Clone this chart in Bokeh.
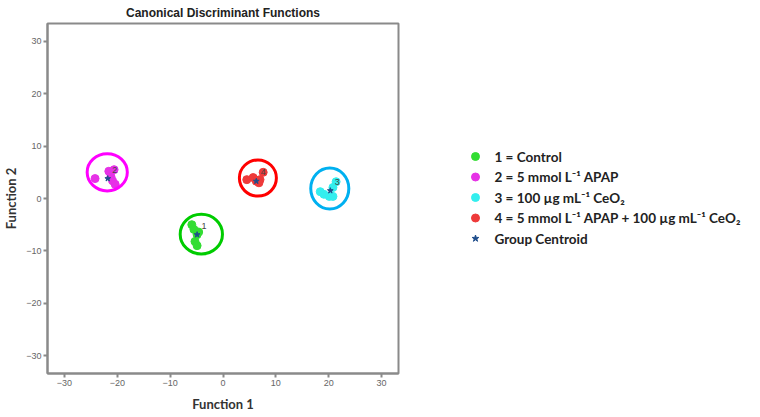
from bokeh.plotting import figure
from bokeh.layouts import row
from bokeh.models import Range1d, FixedTicker
from bokeh.core.properties import value
from bokeh.embed import file_html
from bokeh.resources import INLINE

# ---------------- data ----------------
g1_x = [-5.9, -5.5, -4.9, -5.3, -4.9, -4.6]
g1_y = [-5.0, -5.9, -6.9, -8.2, -9.0, -6.4]
g2_x = [-24.2, -21.6, -20.6, -21.2, -20.9, -20.4]
g2_y = [3.8, 5.2, 5.5, 4.2, 3.4, 2.7]
g3_x = [18.4, 19.1, 20.1, 20.8, 20.8, 21.4]
g3_y = [1.3, 0.8, 0.4, 0.4, 2.1, 3.2]
g4_x = [4.5, 5.7, 6.3, 7.0, 6.8, 7.6]
g4_y = [3.6, 4.0, 3.3, 3.6, 3.0, 5.0]

centroid_x = [-4.9, -21.8, 20.3, 6.3]
centroid_y = [-6.9, 3.8, 1.5, 3.3]
group_labels = ["1", "2", "3", "4"]

circle_x = [-4.1, -21.9, 20.2, 6.6]
circle_y = [-6.8, 5.0, 1.9, 3.9]
circle_w = [8.0, 7.6, 7.2, 7.0]
circle_h = [7.6, 7.1, 7.8, 6.9]

ticks = [-30, -20, -10, 0, 10, 20, 30]

legend_labels = [
    "1 = Control",
    "2 = 5 mmol L\u207b\u00b9 APAP",
    "3 = 100 \u00b5g mL\u207b\u00b9 CeO\u2082",
    "4 = 5 mmol L\u207b\u00b9 APAP + 100 \u00b5g mL\u207b\u00b9 CeO\u2082",
    "Group Centroid",
]

# ---------------- styles ----------------
point_colors = ["#33dd33", "#e632e6", "#33eeee", "#ee3a3a"]
circle_colors = ["#00cc00", "#ff00ff", "#00b0f0", "#ff0000"]
star_color = "#1f4e8c"
frame_color = "#8a8a8a"

p = figure(frame_width=351, frame_height=350,
           x_range=Range1d(-33.2, 33.2), y_range=Range1d(-33.4, 33.4),
           output_backend="svg", toolbar_location=None,
           title="Canonical Discriminant Functions",
           min_border_left=38, min_border_right=2,
           min_border_top=0, min_border_bottom=0)
p.background_fill_color = "white"
p.border_fill_color = "white"
p.outline_line_color = frame_color
p.outline_line_width = 2
p.grid.visible = False

p.title.text_font = "Liberation Sans"
p.title.text_font_size = "12px"
p.title.text_font_style = "bold"
p.title.text_color = "#222222"
p.title.align = "center"
p.title.standoff = 7

for ax in (p.xaxis[0], p.yaxis[0]):
    ax.ticker = FixedTicker(ticks=ticks)
    ax.minor_tick_line_color = None
    ax.major_tick_in = 0
    ax.major_tick_out = 4
    ax.major_tick_line_color = frame_color
    ax.major_tick_line_width = 2
    ax.axis_line_color = frame_color
    ax.axis_line_width = 2
    ax.major_label_text_font = "Liberation Sans"
    ax.major_label_text_font_size = "9px"
    ax.major_label_text_color = "#666666"
    ax.major_label_standoff = 2
    ax.axis_label_text_font = "Lato"
    ax.axis_label_text_font_style = "bold"
    ax.axis_label_text_font_size = "13px"
    ax.axis_label_text_color = "#333333"
p.xaxis.axis_label = "Function 1"
p.yaxis.axis_label = "Function 2"
p.xaxis.axis_label_standoff = 7
p.yaxis.axis_label_standoff = 4

groups = [(g1_x, g1_y), (g2_x, g2_y), (g3_x, g3_y), (g4_x, g4_y)]
for (gx, gy), c in zip(groups, point_colors):
    p.scatter(gx, gy, size=8, fill_color=c, line_color=c, marker="circle")

p.ellipse(x=circle_x, y=circle_y, width=circle_w, height=circle_h,
          fill_color=None, line_color=circle_colors, line_width=3)

p.scatter(centroid_x, centroid_y, marker="star", size=6,
          fill_color=star_color, line_color=star_color)
p.text(x=centroid_x, y=centroid_y, text=group_labels, x_offset=7, y_offset=-9,
       text_font=value("Liberation Sans"), text_font_size="9px",
       text_color="#444444", text_align="center", text_baseline="middle")

# ---------------- legend panel (frame aligned with the plot frame) ----------------
LX0, LX1 = 399, 751      # page x span of legend panel
LY0, LY1 = 22, 372       # page y span (aligned to the plot frame)
lf = figure(frame_width=LX1 - LX0, frame_height=LY1 - LY0,
            x_range=Range1d(LX0, LX1), y_range=Range1d(LY1, LY0),
            output_backend="svg", toolbar_location=None,
            x_axis_location=None, y_axis_location=None, min_border=0)
lf.outline_line_color = None
lf.grid.visible = False
lf.background_fill_color = "white"
lf.border_fill_color = "white"

rows_y = [155, 175.5, 196, 216.5, 237]
lf.scatter([474] * 4, rows_y[:4], size=8, fill_color=point_colors,
           line_color=point_colors, marker="circle")
lf.scatter([474], [rows_y[4]], size=7, marker="star",
           fill_color=star_color, line_color=star_color)
lf.text(x=[493] * len(legend_labels), y=rows_y, text=legend_labels,
        text_font=value("Lato"), text_font_style="bold", text_font_size="13.5px",
        text_color="#222222", text_baseline="middle", text_align="left")

layout = row(p, lf)
open("out.html", "w").write(file_html(layout, INLINE))
